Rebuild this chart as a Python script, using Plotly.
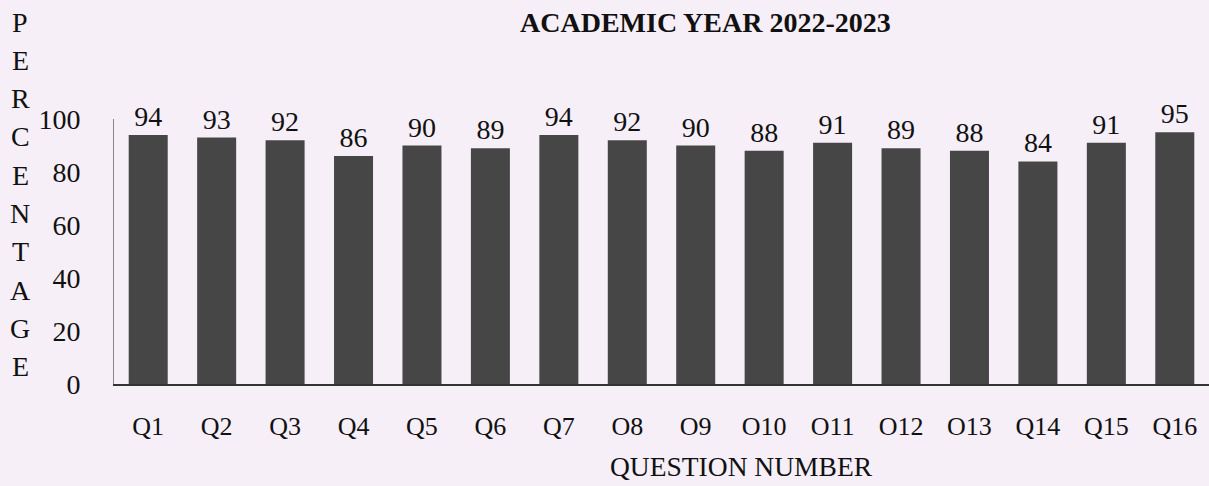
import plotly.graph_objects as go

categories = ["Q1", "Q2", "Q3", "Q4", "Q5", "Q6", "Q7", "O8", "O9", "O10",
              "O11", "O12", "O13", "Q14", "Q15", "Q16"]
values = [94, 93, 92, 86, 90, 89, 94, 92, 90, 88, 91, 89, 88, 84, 91, 95]
y_ticks = [0, 20, 40, 60, 80, 100]
title_text = "ACADEMIC YEAR 2022-2023"
x_title = "QUESTION NUMBER"
y_title_letters = list("PERCENTAGE")

BG = "#f6eff7"
FONT = "Liberation Serif, Times New Roman, serif"

fig = go.Figure(go.Bar(
    x=categories, y=values,
    marker=dict(color="#464646", line=dict(width=0)),
    text=[str(v) for v in values], textposition="outside",
    textfont=dict(family=FONT, size=28, color="#111"),
    cliponaxis=False, width=0.57,
))

annotations = [
    dict(text=f"<b>{title_text}</b>", x=705, y=22, showarrow=False,
         font=dict(family=FONT, size=28, color="#111")),
    dict(text=x_title, x=741, y=466, showarrow=False,
         font=dict(family=FONT, size=27.5, color="#111")),
]
for i, ch in enumerate(y_title_letters):
    annotations.append(dict(text=ch, x=20, y=22 + i * 38.3, showarrow=False,
                            font=dict(family=FONT, size=28, color="#111")))
# convert pixel positions to paper coords
L, R, T, B, W, H = 114, 0, 119, 102, 1209, 486
pw, ph = W - L - R, H - T - B
for a in annotations:
    a["x"] = (a["x"] - L) / pw
    a["y"] = 1 - (a["y"] - T) / ph
    a["xref"] = "paper"
    a["yref"] = "paper"
    a["xanchor"] = "center"
    a["yanchor"] = "middle"

fig.update_layout(
    width=W, height=H,
    margin=dict(l=L, r=R, t=T, b=B),
    paper_bgcolor=BG, plot_bgcolor=BG,
    showlegend=False,
    annotations=annotations,
    font=dict(family=FONT, color="#111"),
    bargap=0.43,
)
fig.update_xaxes(showline=True, linecolor="#333", linewidth=1.5,
                 tickfont=dict(family=FONT, size=26, color="#111"),
                 ticks="", ticklabelstandoff=18, showgrid=False)
fig.update_yaxes(range=[0, 100], tickvals=y_ticks, showgrid=False,
                 showline=True, linecolor="#888", linewidth=1, zeroline=False,
                 tickfont=dict(family=FONT, size=28, color="#111"),
                 ticks="", ticklabelstandoff=27)

fig.write_html("out.html", config={"displayModeBar": False},
               post_script="document.body.style.margin='0';document.body.style.background='%s';" % BG)
